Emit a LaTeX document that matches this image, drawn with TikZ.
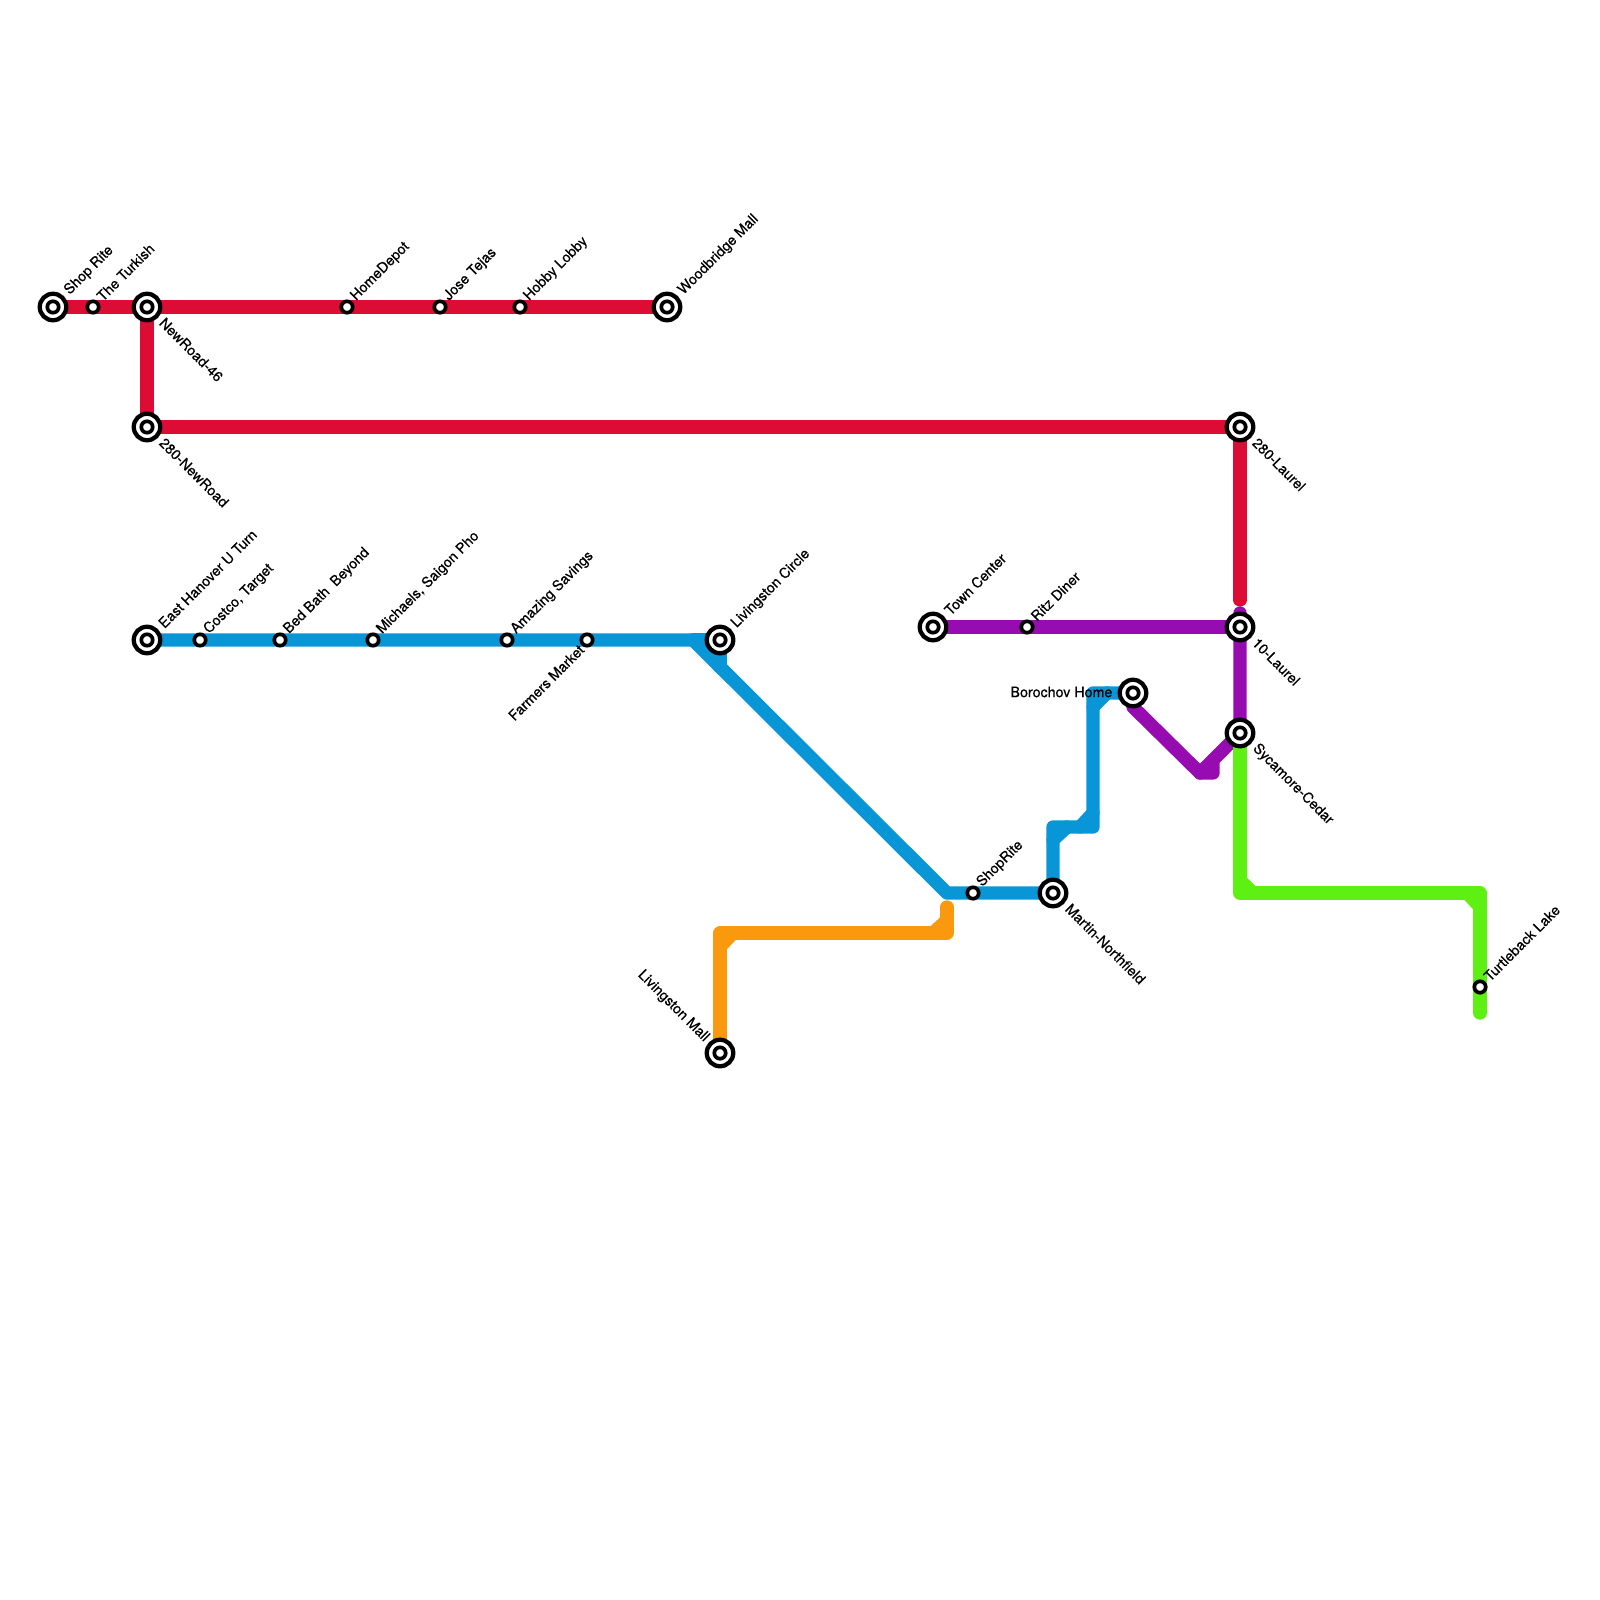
\documentclass[tikz,border=0pt]{standalone}
\usepackage{fontspec}
\newfontfamily\stationfont[RawFeature={embolden=0.5}]{TeX Gyre Heros}
\usepackage{xcolor}
\usetikzlibrary{positioning}
\definecolor{linered}{RGB}{220, 12, 52}
\definecolor{lineblue}{RGB}{9, 150, 214}
\definecolor{linepurple}{RGB}{150, 12, 176}
\definecolor{linegreen}{RGB}{94, 240, 18}
\definecolor{lineorange}{RGB}{250, 152, 14}
\tikzset{
  route/.style={line width=0.133cm, line cap=round, line join=round},
  stop/.style={circle, draw=black, fill=white, line width=0.037cm, minimum size=0.114cm, inner sep=0pt},
  hub/.style={circle, draw=black, fill=white, line width=0.043cm, minimum size=0.265cm, inner sep=0pt,
    label={[stop]center:}},
  txt/.style={font=\stationfont\fontsize{4.05pt}{5pt}\selectfont, inner sep=0pt, text=black},
  stopne/.style={txt, shift={(6,-8)}, rotate=45, anchor=west},
  hubne/.style={txt, shift={(13.5,-14)}, rotate=45, anchor=west},
  hubse/.style={txt, shift={(14.5,13)}, rotate=-45, anchor=west},
  stopsw/.style={txt, shift={(-5,7)}, rotate=45, anchor=east},
  hubnw/.style={txt, shift={(-13,-13)}, rotate=-45, anchor=east},
  hubw/.style={txt, shift={(-20,-1)}, anchor=east}
}
\begin{document}
\begin{tikzpicture}[x=0.01cm, y=-0.01cm]
    \useasboundingbox (0,0) rectangle (1600,1600);

    % Stations, red line
    \coordinate (shoprite) at (53,307);
    \coordinate (turkish) at (93,307);
    \coordinate (newroad) at (147,307);
    \coordinate (homedepot) at (347,307);
    \coordinate (josetejas) at (440,307);
    \coordinate (hobbylobby) at (520,307);
    \coordinate (woodbridge) at (667,307);
    \coordinate (newroadb) at (147,427);
    \coordinate (laurelb) at (1240,427);
    \coordinate (redend) at (1240,600);

    % Stations, blue line
    \coordinate (hanover) at (147,640);
    \coordinate (costco) at (200,640);
    \coordinate (bedbath) at (280,640);
    \coordinate (michaels) at (373,640);
    \coordinate (amazing) at (507,640);
    \coordinate (farmers) at (587,640);
    \coordinate (circle) at (720,640);
    \coordinate (shopritec) at (973,893);
    \coordinate (martin) at (1053,893);
    \coordinate (borochov) at (1133,693);

    % Stations, other lines
    \coordinate (towncenter) at (933,627);
    \coordinate (ritz) at (1027,627);
    \coordinate (laurela) at (1240,627);
    \coordinate (sycamore) at (1240,733);
    \coordinate (turtleback) at (1480,987);
    \coordinate (mall) at (720,1053);

    % Orange line
    \draw[route, lineorange] (mall) -- (720,933) -- (947,933) -- (947,907);
    \draw[route, lineorange] (720,947) -- (733,933);
    \draw[route, lineorange] (933,933) -- (947,920);

    % Blue line
    \draw[route, lineblue] (hanover) -- (693,640) -- (947,893) -- (martin) -- (1053,827)
        -- (1093,827) -- (1093,693) -- (borochov);
    \draw[route, lineblue] (693,640) -- (circle) -- (720,667);
    \draw[route, lineblue] (1053,840) -- (1067,827);
    \draw[route, lineblue] (1080,827) -- (1093,813);
    \draw[route, lineblue] (1093,707) -- (1107,693);

    % Red line
    \draw[route, linered] (shoprite) -- (woodbridge);
    \draw[route, linered] (newroad) -- (newroadb) -- (laurelb) -- (redend);

    % Purple line
    \draw[route, linepurple] (towncenter) -- (laurela);
    \draw[route, linepurple] (1240,613) -- (sycamore) -- (1213,760) -- (1213,773) -- (1200,773)
        -- (1133,707) -- (borochov);
    \draw[route, linepurple] (1200,773) -- (1213,760);

    % Green line
    \draw[route, linegreen] (sycamore) -- (1240,893) -- (1480,893) -- (1480,1013);
    \draw[route, linegreen] (1240,880) -- (1253,893);
    \draw[route, linegreen] (1467,893) -- (1480,907);

    % Station marks
    \foreach \s in {shoprite, newroad, woodbridge, newroadb, laurelb, hanover, circle, martin,
        borochov, towncenter, laurela, sycamore, mall}
        \node[hub] (\s-mark) at (\s) {};
    \foreach \s in {turkish, homedepot, josetejas, hobbylobby, costco, bedbath, michaels, amazing,
        farmers, shopritec, ritz, turtleback}
        \node[stop] (\s-mark) at (\s) {};

    % Names
    \node[hubne] (shoprite-txt) at (shoprite) {Shop Rite};
    \node[stopne] (turkish-txt) at (turkish) {The Turkish};
    \node[hubse] (newroad-txt) at (newroad) {NewRoad-46};
    \node[stopne] (homedepot-txt) at (homedepot) {HomeDepot};
    \node[stopne] (josetejas-txt) at (josetejas) {Jose Tejas};
    \node[stopne] (hobbylobby-txt) at (hobbylobby) {Hobby Lobby};
    \node[hubne] (woodbridge-txt) at (woodbridge) {Woodbridge Mall};
    \node[hubse] (newroadb-txt) at (newroadb) {280-NewRoad};
    \node[hubse] (laurelb-txt) at (laurelb) {280-Laurel};
    \node[hubne] (hanover-txt) at (hanover) {East Hanover U Turn};
    \node[stopne] (costco-txt) at (costco) {Costco, Target};
    \node[stopne] (bedbath-txt) at (bedbath) {Bed Bath\ \ Beyond};
    \node[stopne] (michaels-txt) at (michaels) {Michaels, Saigon Pho};
    \node[stopne] (amazing-txt) at (amazing) {Amazing Savings};
    \node[stopsw] (farmers-txt) at (farmers) {Farmers Market};
    \node[hubne] (circle-txt) at (circle) {Livingston Circle};
    \node[hubne] (towncenter-txt) at (towncenter) {Town Center};
    \node[stopne] (ritz-txt) at (ritz) {Ritz Diner};
    \node[hubse] (laurela-txt) at (laurela) {10-Laurel};
    \node[hubw] (borochov-txt) at (borochov) {Borochov Home};
    \node[hubse] (sycamore-txt) at (sycamore) {Sycamore-Cedar};
    \node[stopne] (shopritec-txt) at (shopritec) {ShopRite};
    \node[hubse] (martin-txt) at (martin) {Martin-Northfield};
    \node[hubnw] (mall-txt) at (mall) {Livingston Mall};
    \node[stopne] (turtleback-txt) at (turtleback) {Turtleback Lake};
\end{tikzpicture}
\end{document}
